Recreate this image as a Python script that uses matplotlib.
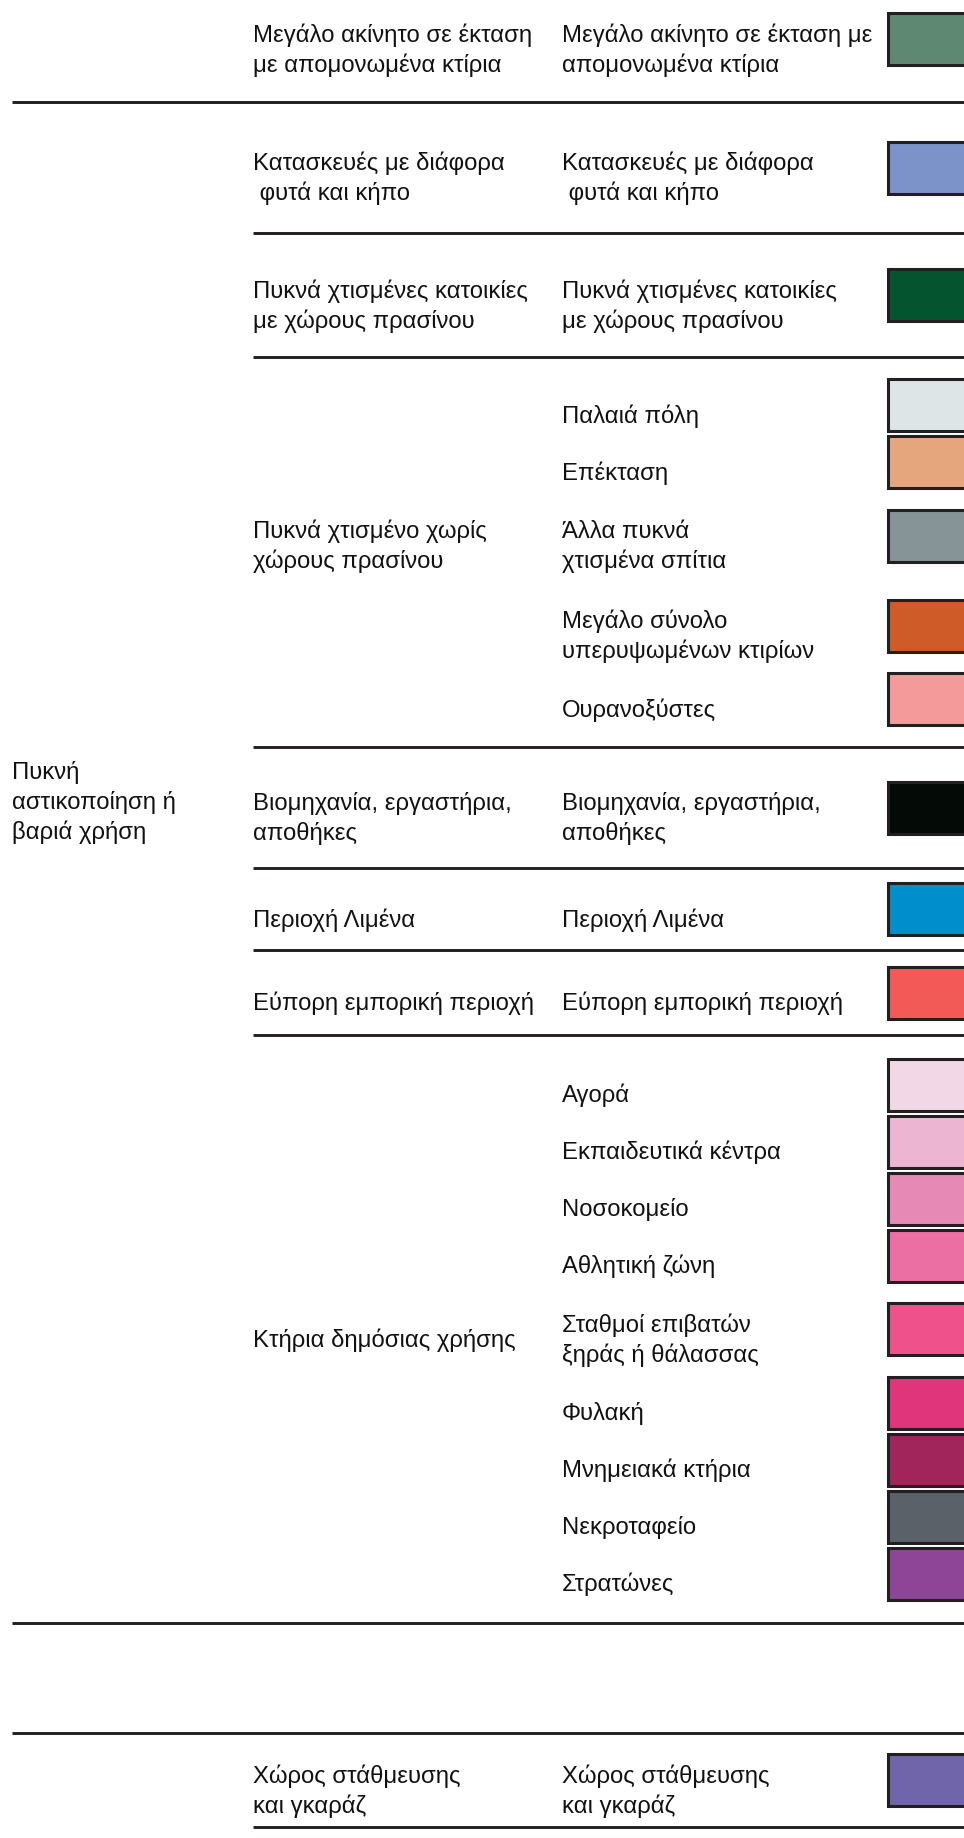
import matplotlib
matplotlib.use("Agg")
import matplotlib.pyplot as plt
from matplotlib.patches import Rectangle

plt.rcParams["font.family"] = ["Liberation Sans", "DejaVu Sans"]

# ---- data: one entry per table row (group) ----
level1_names = ["", "Πυκνή\nαστικοποίηση ή\nβαριά χρήση", "", ""]
group_level1 = [0, 1, 1, 1, 1, 1, 1, 1, 2, 3]

group_names = [
    "Μεγάλο ακίνητο σε έκταση\nμε απομονωμένα κτίρια",
    "Κατασκευές με διάφορα\n φυτά και κήπο",
    "Πυκνά χτισμένες κατοικίες\nμε χώρους πρασίνου",
    "Πυκνά χτισμένο χωρίς\nχώρους πρασίνου",
    "Βιομηχανία, εργαστήρια,\nαποθήκες",
    "Περιοχή Λιμένα",
    "Εύπορη εμπορική περιοχή",
    "Κτήρια δημόσιας χρήσης",
    "",
    "Χώρος στάθμευσης\nκαι γκαράζ",
]

item_labels = [
    ["Μεγάλο ακίνητο σε έκταση με\nαπομονωμένα κτίρια"],
    ["Κατασκευές με διάφορα\n φυτά και κήπο"],
    ["Πυκνά χτισμένες κατοικίες\nμε χώρους πρασίνου"],
    ["Παλαιά πόλη", "Επέκταση", "Άλλα πυκνά\nχτισμένα σπίτια",
     "Μεγάλο σύνολο\nυπερυψωμένων κτιρίων", "Ουρανοξύστες"],
    ["Βιομηχανία, εργαστήρια,\nαποθήκες"],
    ["Περιοχή Λιμένα"],
    ["Εύπορη εμπορική περιοχή"],
    ["Αγορά", "Εκπαιδευτικά κέντρα", "Νοσοκομείο", "Αθλητική ζώνη",
     "Σταθμοί επιβατών\nξηράς ή θάλασσας", "Φυλακή", "Μνημειακά κτήρια",
     "Νεκροταφείο", "Στρατώνες"],
    [],
    ["Χώρος στάθμευσης\nκαι γκαράζ"],
]

item_colors = [
    ["#5f8872"],
    ["#7b93c9"],
    ["#04552f"],
    ["#dde5e6", "#e6a67d", "#869397", "#cf5b28", "#f59a9a"],
    ["#040a06"],
    ["#008fcd"],
    ["#f15a57"],
    ["#f2d7e6", "#ecb6d2", "#e689b5", "#ec6fa3", "#ef528b",
     "#e0357a", "#a1255a", "#5a6168", "#8e4597"],
    [],
    ["#7065ab"],
]

# ---- layout (pixels) ----
W, H = 964, 1838
col_x = [12, 253, 562, 888]
row_heights = [126, 131, 124, 390, 121, 82, 85, 588, 110, 94]
start_y = -24
slot_1, slot_2 = 57, 90
swatch_h = 52
line_pitch = 30
text_shift = 11
ink = "#231f20"
fs = 17.2


def draw_label(ax, x, yc, label):
    lines = label.split("\n")
    y0 = yc - (len(lines) - 1) * line_pitch / 2
    for i, line in enumerate(lines):
        ax.text(x, y0 + i * line_pitch, line, fontsize=fs, color="#111111",
                ha="left", va="center")


fig = plt.figure(figsize=(W / 100, H / 100), dpi=100)
ax = fig.add_axes([0, 0, 1, 1])
ax.set_xlim(0, W)
ax.set_ylim(H, 0)
ax.axis("off")

tops = [start_y]
for h in row_heights:
    tops.append(tops[-1] + h)

label_y = []
for g, labels in enumerate(item_labels):
    top, bottom = tops[g], tops[g + 1]
    slots = [slot_2 if "\n" in lab else slot_1 for lab in labels]
    y = top + (bottom - top - sum(slots)) / 2
    ys = []
    for lab, col, s in zip(labels, item_colors[g], slots):
        yc = y + s / 2
        ax.add_patch(Rectangle((col_x[3], yc - swatch_h / 2), 200, swatch_h,
                               facecolor=col, edgecolor=ink, lw=2.2))
        draw_label(ax, col_x[2], yc + text_shift, lab)
        ys.append(yc + text_shift)
        y += s
    # group name lines up with its middle item
    mid_y = ys[len(ys) // 2] if ys else (top + bottom) / 2
    if ys:
        draw_label(ax, col_x[1], mid_y, group_names[g])
    label_y.append(mid_y)

    # rule under the row: full width where the level-1 block ends
    last = g == len(item_labels) - 1
    same = (not last) and group_level1[g + 1] == group_level1[g]
    x0 = col_x[1] if (same or last) else col_x[0]
    ax.hlines(bottom, x0, W, color=ink, lw=2.1)

# level-1 labels, aligned with the row at the middle of their span
for k, name in enumerate(level1_names):
    if not name:
        continue
    rows = [g for g, l in enumerate(group_level1) if l == k]
    mid = (tops[rows[0]] + tops[rows[-1] + 1]) / 2
    g_mid = [g for g in rows if tops[g] <= mid < tops[g + 1]][0]
    draw_label(ax, col_x[0], label_y[g_mid] - 16, name)

fig.savefig("out.png", dpi=100, facecolor="white")
